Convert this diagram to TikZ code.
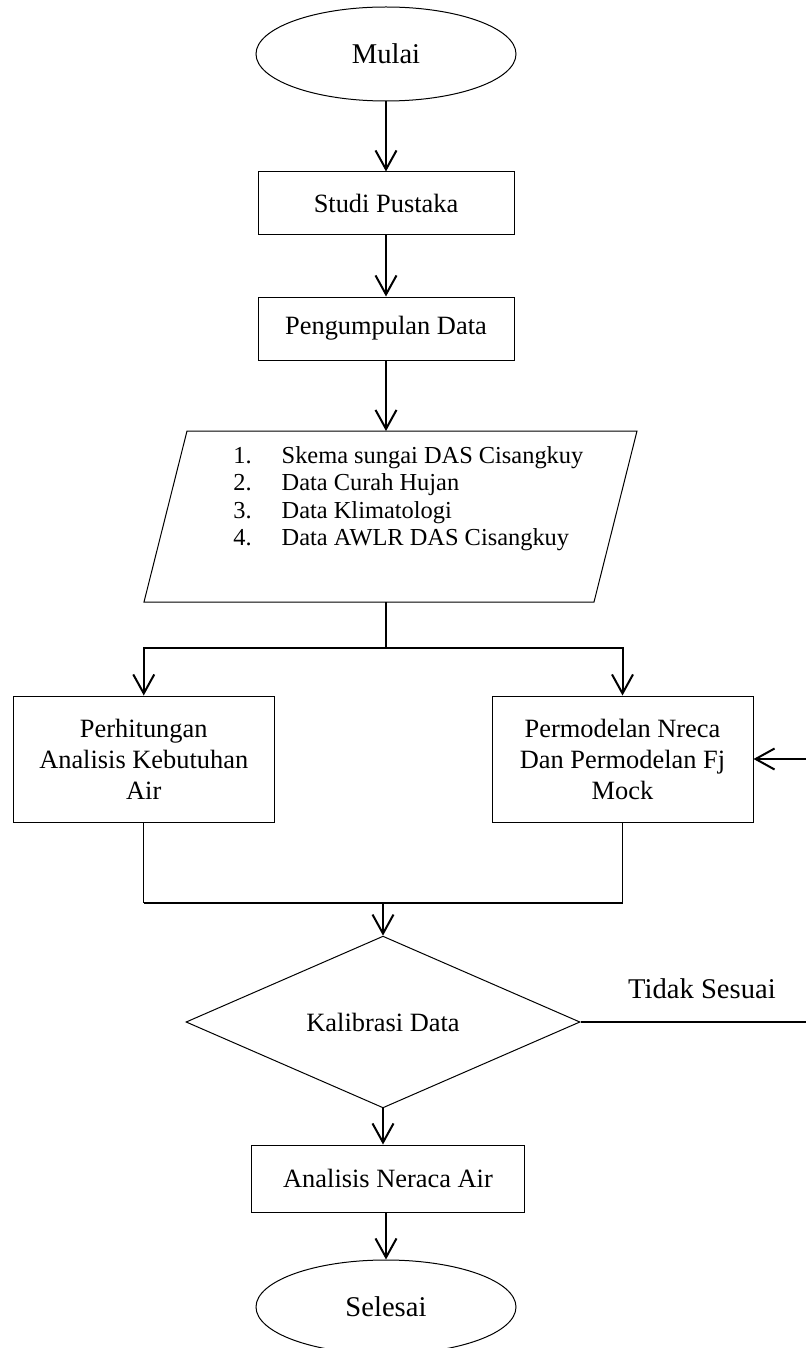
\documentclass[tikz,border=0pt]{standalone}
\usepackage{fontspec}
\setmainfont{Liberation Serif}
\usetikzlibrary{shapes.geometric, arrows.meta}

\newcommand{\boxfont}{\fontsize{13.2}{15.5}\selectfont}
\newcommand{\listfont}{\fontsize{12.2}{13.75}\selectfont}
\newcommand{\termfont}{\fontsize{14.3}{17}\selectfont}

\begin{document}
\begin{tikzpicture}[x=0.5pt, y=-0.5pt,
  flowbox/.style={draw, line width=0.5pt, align=center, inner sep=0pt, font=\boxfont},
  terminal/.style={ellipse, draw, line width=0.5pt, minimum width=130pt,
    minimum height=47pt, inner sep=0pt, font=\termfont},
  decision/.style={diamond, draw, line width=0.5pt, minimum width=197pt,
    minimum height=70.5pt, inner sep=0pt, font=\boxfont},
  flowarrow/.style={-{Straight Barb[length=9.5pt, width=10.5pt]}, line width=1pt},
  flowline/.style={line width=1pt},
  thinline/.style={line width=0.6pt}]

  \useasboundingbox (0,0) rectangle (805,1348);

  % ── Start and literature ─────────────────────────────────────────
  \node[terminal] (mulai) at (386,54) {Mulai};
  \node[flowbox, minimum width=128pt, minimum height=31.5pt] (studi) at (386,203.5) {Studi Pustaka};
  \node[flowbox, minimum width=128pt, minimum height=31.5pt] (kumpul) at (386,328.5) {Pengumpulan Data};

  % ── Input data (parallelogram) ───────────────────────────────────
  \draw[line width=0.5pt] (187,431) -- (637,431) -- (594,602) -- (144,602) -- cycle;
  \coordinate (data-in)  at (386,431);
  \coordinate (data-out) at (386,602);
  \node[anchor=base west, inner sep=0pt, font=\listfont] (data) at (233,463) {%
    \begin{tabular}[t]{@{}l@{\hspace{15pt}}l@{}}
      1. & Skema sungai DAS Cisangkuy\\
      2. & Data Curah Hujan\\
      3. & Data Klimatologi\\
      4. & Data AWLR DAS Cisangkuy
    \end{tabular}};

  % ── Two branches ────────────────────────────────────────────────
  \node[flowbox, minimum width=130.25pt, minimum height=63pt] (hitung) at (143.75,759)
    {Perhitungan\\Analisis Kebutuhan\\Air};
  \node[flowbox, minimum width=130.5pt, minimum height=63pt] (model) at (622.5,759)
    {Permodelan Nreca\\Dan Permodelan Fj\\Mock};
  \coordinate (split) at (386,648);
  \coordinate (merge) at (383,903);

  % ── Calibration and balance ─────────────────────────────────────
  \node[decision] (kal) at (383,1022) {Kalibrasi Data};
  \coordinate (loop) at (810,1022);
  \node[anchor=base, inner sep=0pt, font=\termfont] (tidak) at (702,998) {Tidak Sesuai};
  \node[flowbox, minimum width=136.5pt, minimum height=33.5pt] (neraca) at (388,1178.5) {Analisis Neraca Air};
  \node[terminal] (selesai) at (386,1307) {Selesai};

  % ── Connectors ──────────────────────────────────────────────────
  \draw[flowarrow] (mulai) -- (studi);
  \draw[flowarrow] (studi) -- (kumpul);
  \draw[flowarrow] (kumpul) -- (data-in);
  \draw[flowline] (data-out) -- (split);
  \draw[flowarrow] (split) -| (hitung.north);
  \draw[flowarrow] (split) -| (model.north);
  \draw[thinline] (hitung.south) -- (hitung.south |- merge);
  \draw[thinline] (model.south) -- (model.south |- merge);
  \draw[flowline] (hitung.south |- merge) -- (model.south |- merge);
  \draw[flowarrow] (merge) -- (kal);
  \draw[flowarrow] (kal.east) -- (loop) |- (model.east);
  \draw[flowarrow] (kal.south) -- (kal.south |- neraca.north);
  \draw[flowarrow] (selesai |- neraca.south) -- (selesai);

\end{tikzpicture}
\end{document}
